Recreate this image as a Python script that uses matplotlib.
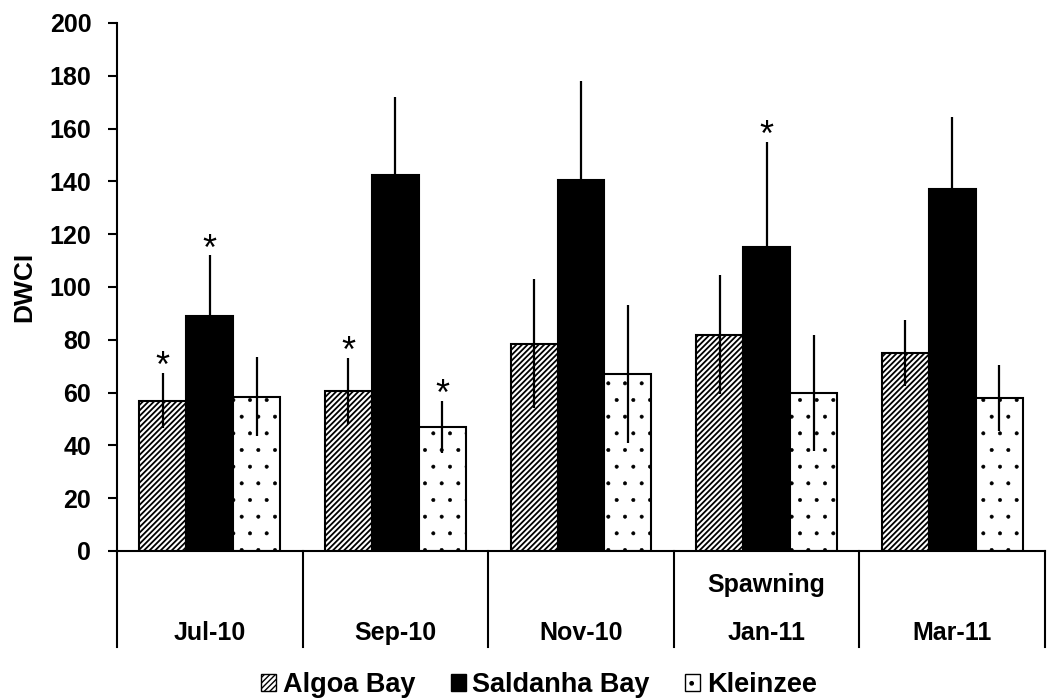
import numpy as np
import matplotlib.pyplot as plt
from matplotlib.patches import Patch

plt.rcParams['font.family'] = ['Liberation Sans', 'DejaVu Sans']
plt.rcParams['font.weight'] = 'bold'

months = ['Jul-10', 'Sep-10', 'Nov-10', 'Jan-11', 'Mar-11']
sites = ['Algoa Bay', 'Saldanha Bay', 'Kleinzee']

algoa = [57, 60.5, 78.5, 82, 75]
algoa_err = [10.5, 12.5, 24.5, 22.5, 12.5]
saldanha = [89, 142.5, 140.5, 115, 137]
saldanha_err = [23, 29.5, 37.5, 40, 27.5]
kleinzee = [58.5, 47, 67, 60, 58]
kleinzee_err = [15, 10, 26, 22, 12.5]

# significance marks: (site index, month index)
stars = [(0, 0), (1, 0), (0, 1), (2, 1), (1, 3)]

means = [algoa, saldanha, kleinzee]
errs = [algoa_err, saldanha_err, kleinzee_err]
faces = ['white', 'black', 'white']
hatches = ['//////', None, '.']
hatch_lw = [1.3, 1.0, 0.4]


def style_hatch(patches, lw):
    for p in patches:
        if hasattr(p, 'set_hatch_linewidth'):
            p.set_hatch_linewidth(lw)


fig = plt.figure(figsize=(10.58, 7), dpi=100)
ax = fig.add_axes([117/1058, 1 - 551/700, (1045 - 117)/1058, (551 - 23)/700])

x = np.arange(len(months))
w = 0.253
for i in range(3):
    pos = x + (i - 1) * w
    with plt.rc_context({'hatch.linewidth': hatch_lw[i]}):
        bars = ax.bar(pos, means[i], width=w, color=faces[i],
                      edgecolor='black', linewidth=1.5, hatch=hatches[i])
    style_hatch(bars, hatch_lw[i])
    ax.errorbar(pos, means[i], yerr=errs[i], fmt='none', ecolor='black',
                elinewidth=1.6, capsize=0)

for s, m in stars:
    top = means[s][m] + errs[s][m]
    ax.annotate('*', (m + (s - 1) * w, top), xytext=(0, -3),
                textcoords='offset points', ha='center', va='baseline',
                fontsize=26, fontweight='normal')

ax.set_xlim(-0.5, len(months) - 0.5)
ax.set_ylim(0, 200)
ax.set_yticks(np.arange(0, 201, 20))
ax.set_xticks([])
ax.tick_params(axis='y', direction='out', length=6.5, width=1.5,
               labelsize=18, pad=12)
ax.set_ylabel('DWCI', fontsize=19, fontweight='bold')
ax.yaxis.set_label_coords(-0.087, 0.5)

for side in ['top', 'right']:
    ax.spines[side].set_visible(False)
ax.spines['left'].set_linewidth(1.5)
ax.spines['bottom'].set_linewidth(1.5)

# category table below the axis
trans = ax.get_xaxis_transform()
depth = (647 - 551) / 528
for b in np.arange(-0.5, len(months), 1.0):
    ax.plot([b, b], [0, -depth], color='black', lw=1.5, transform=trans,
            clip_on=False)
for i, m in enumerate(months):
    ax.text(i, -(640 - 551) / 528, m, transform=trans, ha='center',
            va='baseline', fontsize=18, fontweight='bold')
ax.text(3, -(592 - 551) / 528, 'Spawning', transform=trans, ha='center',
        va='baseline', fontsize=18, fontweight='bold')

handles = []
for i in range(3):
    with plt.rc_context({'hatch.linewidth': hatch_lw[i]}):
        h = Patch(facecolor=faces[i], edgecolor='black', hatch=hatches[i],
                  label=sites[i])
    style_hatch([h], hatch_lw[i])
    handles.append(h)
fig.legend(handles=handles, loc='center', bbox_to_anchor=(539/1058, 1 - 685/700),
           ncol=3, frameon=False, fontsize=19.5, handlelength=0.55,
           handleheight=0.55, handletextpad=0.25, columnspacing=1.3)

fig.savefig('out.png', dpi=100)
